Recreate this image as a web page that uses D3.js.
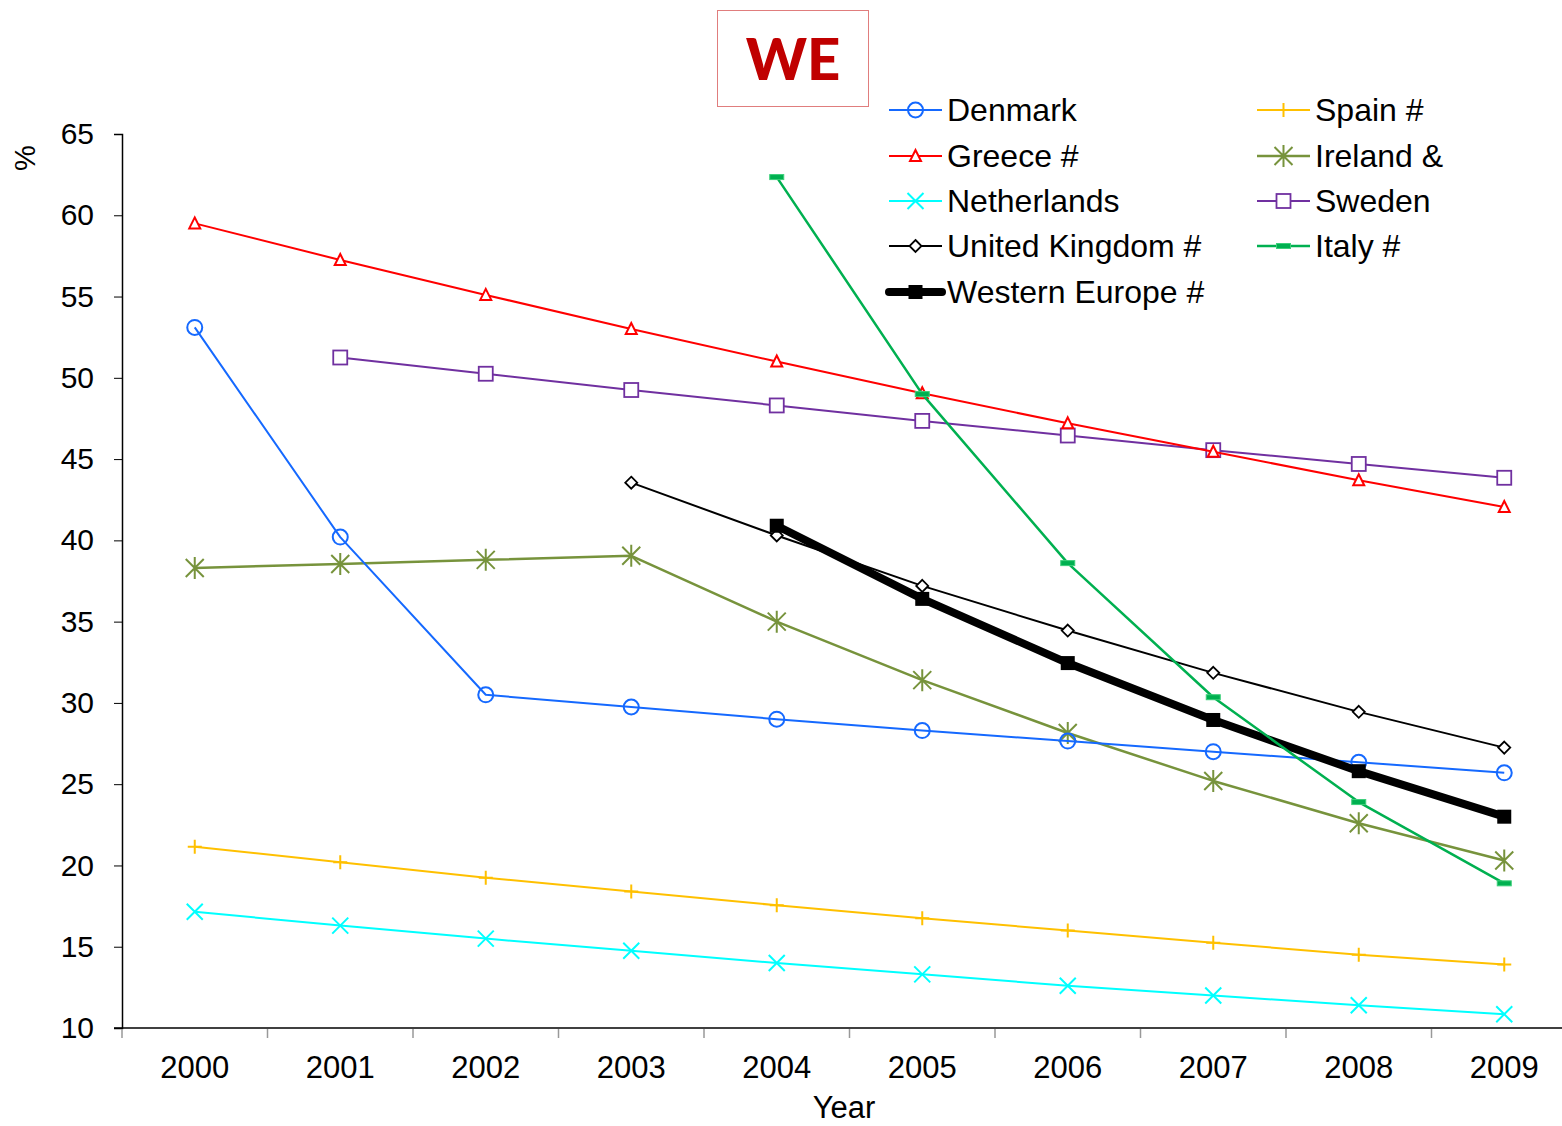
<!DOCTYPE html>
<html lang="en">
<head>
<meta charset="utf-8">
<title>WE</title>
<script src="https://cdn.jsdelivr.net/npm/d3@7"></script>
<style>
  body { margin: 0; background: #fff; }
  svg text { font-family: "Liberation Sans", Arial, sans-serif; fill: #000; }
</style>
</head>
<body>
<div id="chart"></div>
<script>
var years = ["2000","2001","2002","2003","2004","2005","2006","2007","2008","2009"];
var yTicks = [10,15,20,25,30,35,40,45,50,55,60,65];

var denmark     = [53.1, 40.2, 30.5, 29.75, 29.0, 28.3, 27.65, 27.0, 26.35, 25.7];
var greece      = [59.5, 57.25, 55.1, 53.0, 51.0, 49.05, 47.2, 45.45, 43.7, 42.05];
var netherlands = [17.15, 16.3, 15.5, 14.75, 14.0, 13.3, 12.6, 12.0, 11.4, 10.85];
var uk          = [null, null, null, 43.55, 40.3, 37.2, 34.45, 31.85, 29.45, 27.25];
var westEurope  = [null, null, null, null, 40.9, 36.4, 32.45, 28.95, 25.8, 23.0];
var spain       = [21.15, 20.2, 19.25, 18.4, 17.55, 16.75, 16.0, 15.25, 14.5, 13.9];
var ireland     = [38.3, 38.55, 38.8, 39.05, 35.0, 31.4, 28.15, 25.2, 22.6, 20.3];
var sweden      = [null, 51.25, 50.25, 49.25, 48.3, 47.35, 46.45, 45.55, 44.7, 43.85];
var italy       = [null, null, null, null, 62.35, 49.0, 38.6, 30.35, 23.9, 18.9];

var series = [
  {name: "Denmark", values: denmark, color: "#1569ff", marker: "circle", width: 2},
  {name: "Greece #", values: greece, color: "#ff0000", marker: "triangle", width: 2},
  {name: "Netherlands", values: netherlands, color: "#00ffff", marker: "x", width: 2},
  {name: "United Kingdom #", values: uk, color: "#000000", marker: "diamond", width: 2},
  {name: "Western Europe #", values: westEurope, color: "#000000", marker: "fsquare", width: 8},
  {name: "Spain #", values: spain, color: "#ffc000", marker: "plus", width: 2},
  {name: "Ireland &", values: ireland, color: "#77933c", marker: "star", width: 2.5},
  {name: "Sweden", values: sweden, color: "#7030a0", marker: "square", width: 2},
  {name: "Italy #", values: italy, color: "#00b050", marker: "dash", width: 2.5}
];
// draw order (Western Europe on top of others except Italy)
var drawOrder = [5, 2, 7, 1, 6, 0, 3, 4, 8];

var W = 1562, H = 1126;
var svg = d3.select("#chart").append("svg")
    .attr("width", W).attr("height", H);

var x = d3.scaleBand().domain(years).range([122, 1577]);
var y = d3.scaleLinear().domain([10, 65]).range([1028, 134]);

// title box
svg.append("rect").attr("x", 717.5).attr("y", 10.5).attr("width", 151).attr("height", 96)
  .attr("fill", "none").attr("stroke", "#e07d7d").attr("stroke-width", 1);
svg.append("text").attr("x", 793).attr("y", 80).attr("text-anchor", "middle")
  .style("font-family", "Lato, 'Open Sans', sans-serif").style("font-weight", 900)
  .style("font-size", "58px").style("fill", "#c00000").text("WE");

// y axis
var yAxis = svg.append("g").attr("transform", "translate(122,0)")
  .call(d3.axisLeft(y).tickValues(yTicks).tickSize(8).tickPadding(20));
yAxis.select(".domain").attr("stroke", "#000").attr("stroke-width", 1.5);
yAxis.selectAll(".tick line").attr("stroke", "#000");
yAxis.selectAll("text").style("font-size", "30px").attr("font-family", null);

// x axis
svg.append("line").attr("x1", 114).attr("x2", W).attr("y1", 1028).attr("y2", 1028)
  .attr("stroke", "#000").attr("stroke-width", 1.5);
var xb = svg.append("g");
var bounds = years.map(function(d) { return x(d); });
xb.selectAll("line").data(bounds).enter().append("line")
  .attr("x1", function(d) { return d; }).attr("x2", function(d) { return d; })
  .attr("y1", 1029).attr("y2", 1038).attr("stroke", "#999").attr("stroke-width", 1.5);
xb.selectAll("text").data(years).enter().append("text")
  .attr("x", function(d) { return x(d) + x.bandwidth() / 2; })
  .attr("y", 1078).attr("text-anchor", "middle").style("font-size", "31px")
  .text(function(d) { return d; });

svg.append("text").attr("x", 844).attr("y", 1118).attr("text-anchor", "middle")
  .style("font-size", "31px").text("Year");
svg.append("text").attr("transform", "translate(35,158) rotate(-90)")
  .attr("text-anchor", "middle").style("font-size", "29px").text("%");

function cx(i) { return x(years[i]) + x.bandwidth() / 2; }

function drawMarker(g, type, px, py, color) {
  if (type === "circle") {
    g.append("circle").attr("cx", px).attr("cy", py).attr("r", 7.5)
      .attr("fill", "none").attr("stroke", color).attr("stroke-width", 2);
  } else if (type === "triangle") {
    g.append("path").attr("d", "M" + px + "," + (py - 6) + "L" + (px + 5.5) + "," + (py + 5) + "L" + (px - 5.5) + "," + (py + 5) + "Z")
      .attr("fill", "#fff").attr("stroke", color).attr("stroke-width", 2);
  } else if (type === "x") {
    g.append("path").attr("d", "M" + (px - 8) + "," + (py - 8) + "L" + (px + 8) + "," + (py + 8) + "M" + (px + 8) + "," + (py - 8) + "L" + (px - 8) + "," + (py + 8))
      .attr("stroke", color).attr("stroke-width", 2);
  } else if (type === "diamond") {
    g.append("path").attr("d", "M" + px + "," + (py - 6) + "L" + (px + 6) + "," + py + "L" + px + "," + (py + 6) + "L" + (px - 6) + "," + py + "Z")
      .attr("fill", "#fff").attr("stroke", color).attr("stroke-width", 1.8);
  } else if (type === "fsquare") {
    g.append("rect").attr("x", px - 7).attr("y", py - 7).attr("width", 14).attr("height", 14)
      .attr("fill", color);
  } else if (type === "plus") {
    g.append("path").attr("d", "M" + (px - 7) + "," + py + "L" + (px + 7) + "," + py + "M" + px + "," + (py - 7) + "L" + px + "," + (py + 7))
      .attr("stroke", color).attr("stroke-width", 2);
  } else if (type === "star") {
    g.append("path").attr("d", "M" + (px - 9) + "," + (py - 9) + "L" + (px + 9) + "," + (py + 9) + "M" + (px + 9) + "," + (py - 9) + "L" + (px - 9) + "," + (py + 9) + "M" + px + "," + (py - 11) + "L" + px + "," + (py + 11))
      .attr("stroke", color).attr("stroke-width", 2);
  } else if (type === "square") {
    g.append("rect").attr("x", px - 7).attr("y", py - 7).attr("width", 14).attr("height", 14)
      .attr("fill", "#fff").attr("stroke", color).attr("stroke-width", 1.8);
  } else if (type === "dash") {
    g.append("rect").attr("x", px - 7).attr("y", py - 2.5).attr("width", 14).attr("height", 5)
      .attr("fill", color).attr("stroke", "#3ccf7a").attr("stroke-width", 1);
  }
}

var line = d3.line()
  .defined(function(d) { return d != null; })
  .x(function(d, i) { return cx(i); })
  .y(function(d) { return y(d); });

drawOrder.forEach(function(k) {
  var s = series[k];
  var g = svg.append("g");
  g.append("path").attr("d", line(s.values)).attr("fill", "none")
    .attr("stroke", s.color).attr("stroke-width", s.width).attr("stroke-linejoin", "round");
  s.values.forEach(function(v, i) {
    if (v != null) drawMarker(g, s.marker, cx(i), y(v), s.color);
  });
});

// legend
var legPos = [
  [889, 110], [889, 156], [889, 201], [889, 246], [889, 292],
  [1257, 110], [1257, 156], [1257, 201], [1257, 246]
];
series.forEach(function(s, k) {
  var lx = legPos[k][0], ly = legPos[k][1];
  var g = svg.append("g");
  g.append("line").attr("x1", lx).attr("x2", lx + 53).attr("y1", ly).attr("y2", ly)
    .attr("stroke", s.color).attr("stroke-width", s.width).attr("stroke-linecap", s.width > 4 ? "round" : "butt");
  drawMarker(g, s.marker, lx + 26.5, ly, s.color);
  g.append("text").attr("x", lx + 58).attr("y", ly + 11).style("font-size", "32px").text(s.name);
});
</script>
</body>
</html>
